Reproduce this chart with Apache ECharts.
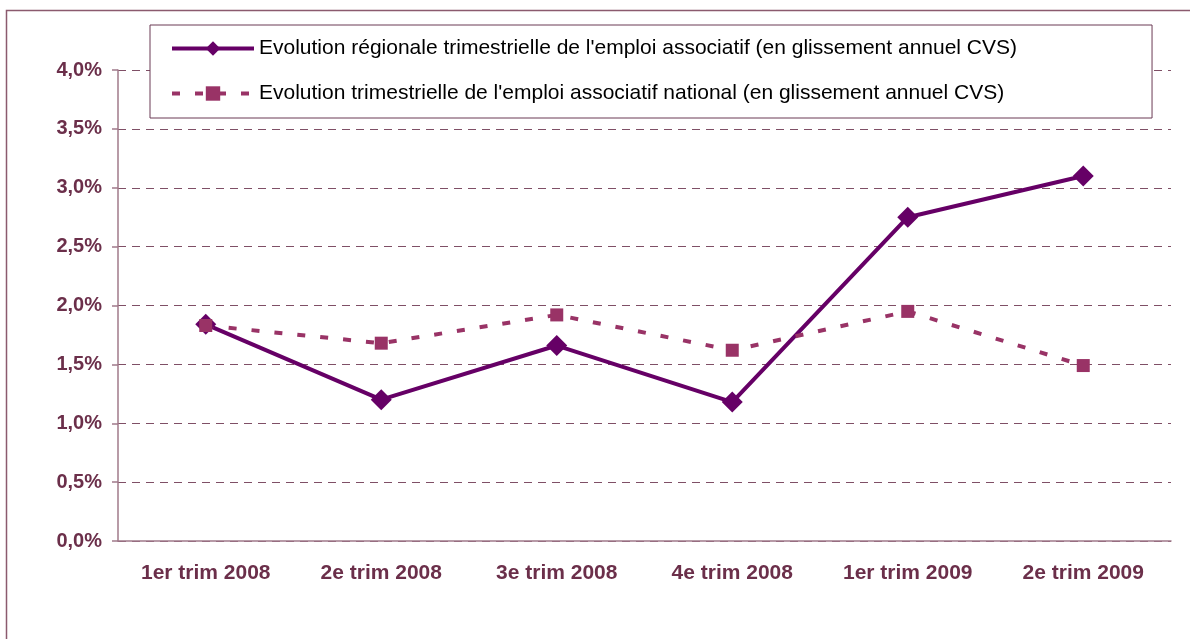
<!DOCTYPE html>
<html>
<head>
<meta charset="utf-8">
<script src="https://cdn.jsdelivr.net/npm/echarts@6/dist/echarts.min.js"></script>
<style>
  html, body { margin: 0; padding: 0; background: #fff; }
  #chart { width: 1190px; height: 639px; }
</style>
</head>
<body>
<div id="chart"></div>
<script>
const categories = ['1er trim 2008', '2e trim 2008', '3e trim 2008', '4e trim 2008', '1er trim 2009', '2e trim 2009']
const regionalName = "Evolution régionale trimestrielle de l'emploi associatif (en glissement annuel CVS)"
const nationalName = "Evolution trimestrielle de l'emploi associatif national (en glissement annuel CVS)"
const regional = [1.84, 1.20, 1.66, 1.18, 2.75, 3.10]
const national = [1.83, 1.68, 1.92, 1.62, 1.95, 1.49]

const labelColor = '#6b2f4a'
const chart = echarts.init(document.getElementById('chart'))
chart.setOption({
  animation: false,
  backgroundColor: '#fff',
  graphic: [{
    type: 'rect',
    shape: { x: 6.5, y: 10.5, width: 1300, height: 800 },
    style: { fill: 'none', stroke: '#8b5a6e', lineWidth: 1.5 },
    z: -1
  }],
  legend: {
    data: [regionalName, nationalName],
    orient: 'vertical',
    left: 150,
    top: 25,
    padding: [13, 135, 14, 20],
    itemGap: 24,
    itemWidth: 82,
    itemHeight: 18,
    lineStyle: { width: 4 },
    borderColor: '#6b3a55',
    borderWidth: 1,
    backgroundColor: '#fff',
    textStyle: { fontFamily: 'Liberation Sans, Arial', fontSize: 21, color: '#000' }
  },
  grid: { left: 118, right: 19, top: 70, bottom: 98 },
  xAxis: {
    type: 'category',
    data: categories,
    boundaryGap: true,
    axisLine: { lineStyle: { color: '#a07a8a', width: 1.5 } },
    axisTick: { length: 6, lineStyle: { color: '#a07a8a', width: 1.5 } },
    axisLabel: {
      interval: 0,
      margin: 22,
      color: labelColor,
      fontFamily: 'Liberation Sans, Arial',
      fontWeight: 'bold',
      fontSize: 21
    }
  },
  yAxis: {
    type: 'value',
    min: 0,
    max: 4,
    interval: 0.5,
    axisLine: { show: true, lineStyle: { color: '#a07a8a', width: 1.5 } },
    axisTick: { show: true, length: 6, lineStyle: { color: '#a07a8a', width: 1.5 } },
    splitLine: { lineStyle: { color: '#7f4f66', type: [8, 6], width: 1 } },
    axisLabel: {
      margin: 16,
      color: labelColor,
      fontFamily: 'Liberation Sans, Arial',
      fontWeight: 'bold',
      fontSize: 20,
      formatter: v => v.toFixed(1).replace('.', ',') + '%'
    }
  },
  series: [
    {
      name: regionalName,
      type: 'line',
      data: regional,
      symbol: 'diamond',
      symbolSize: 21,
      lineStyle: { color: '#660066', width: 4 },
      itemStyle: { color: '#660066' }
    },
    {
      name: nationalName,
      type: 'line',
      data: national,
      symbol: 'rect',
      symbolSize: 13,
      lineStyle: { color: '#993366', width: 4, type: [8, 15] },
      itemStyle: { color: '#993366' }
    }
  ]
})
</script>
</body>
</html>
